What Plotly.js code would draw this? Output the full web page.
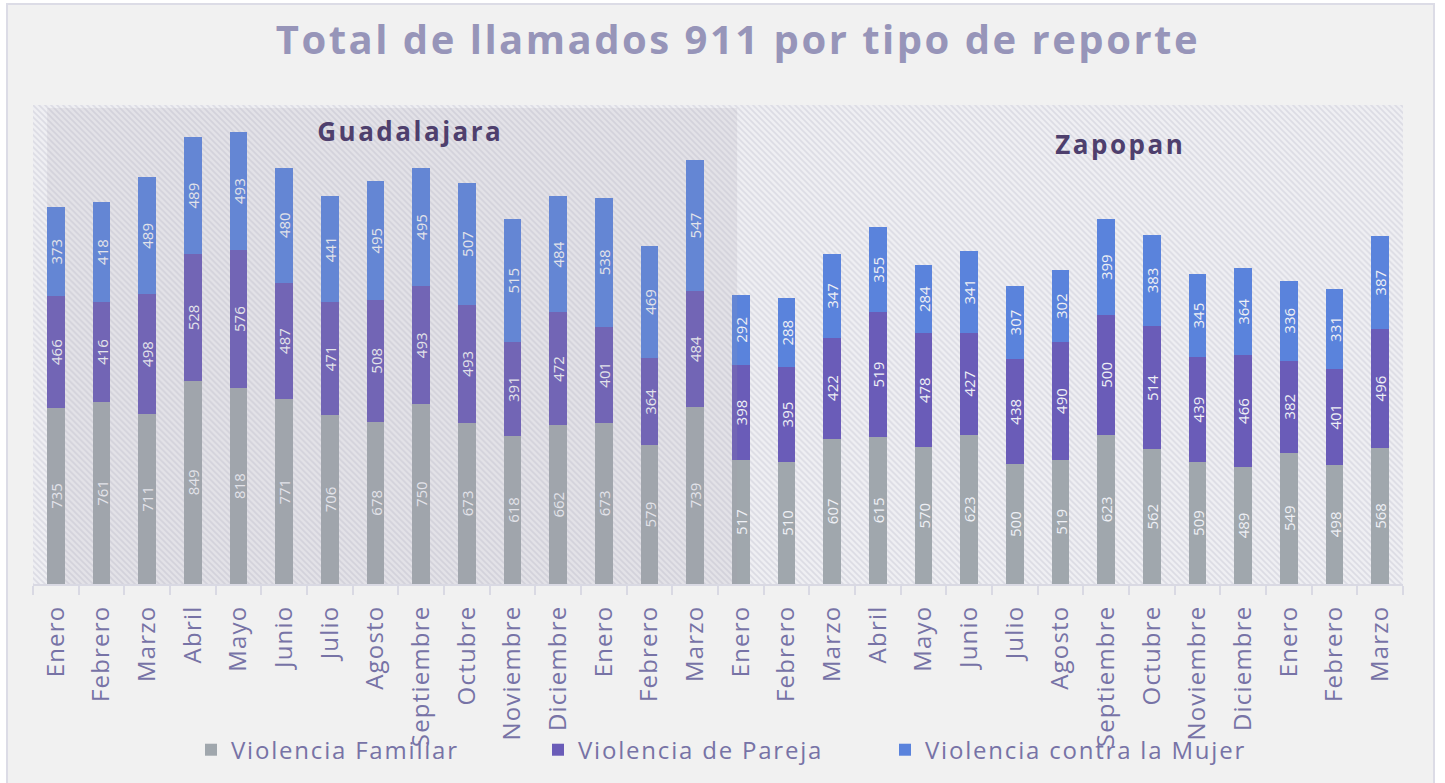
<!DOCTYPE html>
<html>
<head>
<meta charset="utf-8">
<script src="https://cdn.plot.ly/plotly-3.0.1.min.js"></script>
<style>
  html, body { margin: 0; padding: 0; background: #ffffff; width: 1445px; height: 783px; overflow: hidden; }
  #frame { position: absolute; left: 6px; top: 3px; width: 1429px; height: 800px; background: #f1f1f1; border: 2px solid #dcdce6; box-sizing: border-box; }
  #chart { position: absolute; left: 0; top: 0; width: 1445px; height: 783px; }
  #chart .xtick text { letter-spacing: 1.2px; }
  #chart .legendtext { letter-spacing: 1.8px; }
  #chart .legend .scrollbox, #chart .legend { clip-path: none !important; }
  #chart .gtitle { letter-spacing: 2.5px; }
  #chart .annotation-text { letter-spacing: 2.5px; }
</style>
</head>
<body>
<div id="frame"></div>
<div id="chart"></div>
<script>
const months = ["Enero","Febrero","Marzo","Abril","Mayo","Junio","Julio","Agosto","Septiembre","Octubre","Noviembre","Diciembre","Enero","Febrero","Marzo",
                "Enero","Febrero","Marzo","Abril","Mayo","Junio","Julio","Agosto","Septiembre","Octubre","Noviembre","Diciembre","Enero","Febrero","Marzo"];
const familiar = [735,761,711,849,818,771,706,678,750,673,618,662,673,579,739,
                  517,510,607,615,570,623,500,519,623,562,509,489,549,498,568];
const pareja   = [466,416,498,528,576,487,471,508,493,493,391,472,401,364,484,
                  398,395,422,519,478,427,438,490,500,514,439,466,382,401,496];
const mujer    = [373,418,489,489,493,480,441,495,495,507,515,484,538,469,547,
                  292,288,347,355,284,341,307,302,399,383,345,364,336,331,387];
const seriesNames = ["Violencia Familiar","Violencia de Pareja","Violencia contra la Mujer"];
const groups = ["Guadalajara","Zapopan"];

const idx = months.map((m,i)=>i);
const colors = ["#a0a7ad","#6a5cb8","#5a83dc"];
const labelColor = "#7773a6";

function mk(name, vals, color){
  return {
    type:'bar', name:name, x:idx, y:vals, width:0.39,
    marker:{color:color},
    text: vals.map(String), textposition:'inside', insidetextanchor:'middle',
    textangle:-90, constraintext:'none',
    textfont:{family:'Open Sans, sans-serif', size:15, color:'#eef0f5'},
    hoverinfo:'x+y+name'
  };
}
const data = [mk(seriesNames[0], familiar, colors[0]), mk(seriesNames[1], pareja, colors[1]), mk(seriesNames[2], mujer, colors[2])];

// hatch background for plot area (1370 x 480 px)
const W = 1370, H = 480;
const svg = `<svg xmlns="http://www.w3.org/2000/svg" width="${W}" height="${H}" viewBox="0 0 ${W} ${H}">
<defs><pattern id="p" width="6" height="6" patternUnits="userSpaceOnUse">
<rect width="6" height="6" fill="#efeff3"/>
<path d="M-1,-1 L7,7 M-1,5 L1,7 M5,-1 L7,1" stroke="#dcdce4" stroke-width="1.6"/>
</pattern></defs>
<rect width="${W}" height="${H}" fill="url(#p)"/></svg>`;
const hatch = 'data:image/svg+xml;charset=utf-8,' + encodeURIComponent(svg);

const layout = {
  width:1445, height:783,
  margin:{l:33, r:42, t:105, b:198},
  paper_bgcolor:'rgba(0,0,0,0)', plot_bgcolor:'rgba(0,0,0,0)',
  barmode:'stack',
  title:{text:'Total de llamados 911 por tipo de reporte', x:0.5107, xref:'container', xanchor:'center',
         y:0.949, yref:'container', yanchor:'middle',
         font:{family:'Open Sans, sans-serif', size:40, color:'#9795b9', weight:'bold'}},
  xaxis:{range:[-0.5,29.5], tickmode:'array', tickvals:idx, ticktext:months, tickangle:-90,
         ticks:'', showgrid:false, zeroline:false, showline:true, linecolor:'#d9d9e3', linewidth:2,
         ticklabelstandoff:10,
         tickfont:{family:'Open Sans, sans-serif', size:24, color:labelColor},
         minor:{tick0:-0.5, dtick:1, ticks:'outside', ticklen:9, tickcolor:'#d9d9e3', tickwidth:2, showgrid:false},
         fixedrange:true},
  yaxis:{range:[0,2000], visible:false, showgrid:false, zeroline:false, fixedrange:true},
  showlegend:true,
  legend:{orientation:'h', x:(191-33)/1370, xanchor:'left', y:-0.344, yanchor:'middle',
          font:{family:'Open Sans, sans-serif', size:24, color:labelColor},
          bgcolor:'rgba(0,0,0,0)', entrywidth:302, entrywidthmode:'pixels', itemwidth:30, traceorder:'normal'},
  images:[{source:hatch, xref:'paper', yref:'paper', x:0, y:1, sizex:1, sizey:1, sizing:'stretch', layer:'below', xanchor:'left', yanchor:'top'}],
  shapes:[{type:'rect', xref:'x', yref:'paper', x0:-0.19, x1:14.92, y0:0, y1:0.99375,
           fillcolor:'rgba(160,156,168,0.15)', line:{width:0}, layer:'above'}],
  annotations:[
    {text:groups[0], xref:'paper', yref:'paper', x:(410-33)/1370, y:(585-131)/480, xanchor:'center', yanchor:'middle', showarrow:false,
     font:{family:'Open Sans, sans-serif', size:26, color:'#4e3f6d', weight:'bold'}},
    {text:groups[1], xref:'paper', yref:'paper', x:(1120-33)/1370, y:(585-144)/480, xanchor:'center', yanchor:'middle', showarrow:false,
     font:{family:'Open Sans, sans-serif', size:26, color:'#4e3f6d', weight:'bold'}}
  ],
  bargap:0.6
};
Plotly.newPlot('chart', data, layout, {displayModeBar:false, staticPlot:true});
</script>
</body>
</html>
